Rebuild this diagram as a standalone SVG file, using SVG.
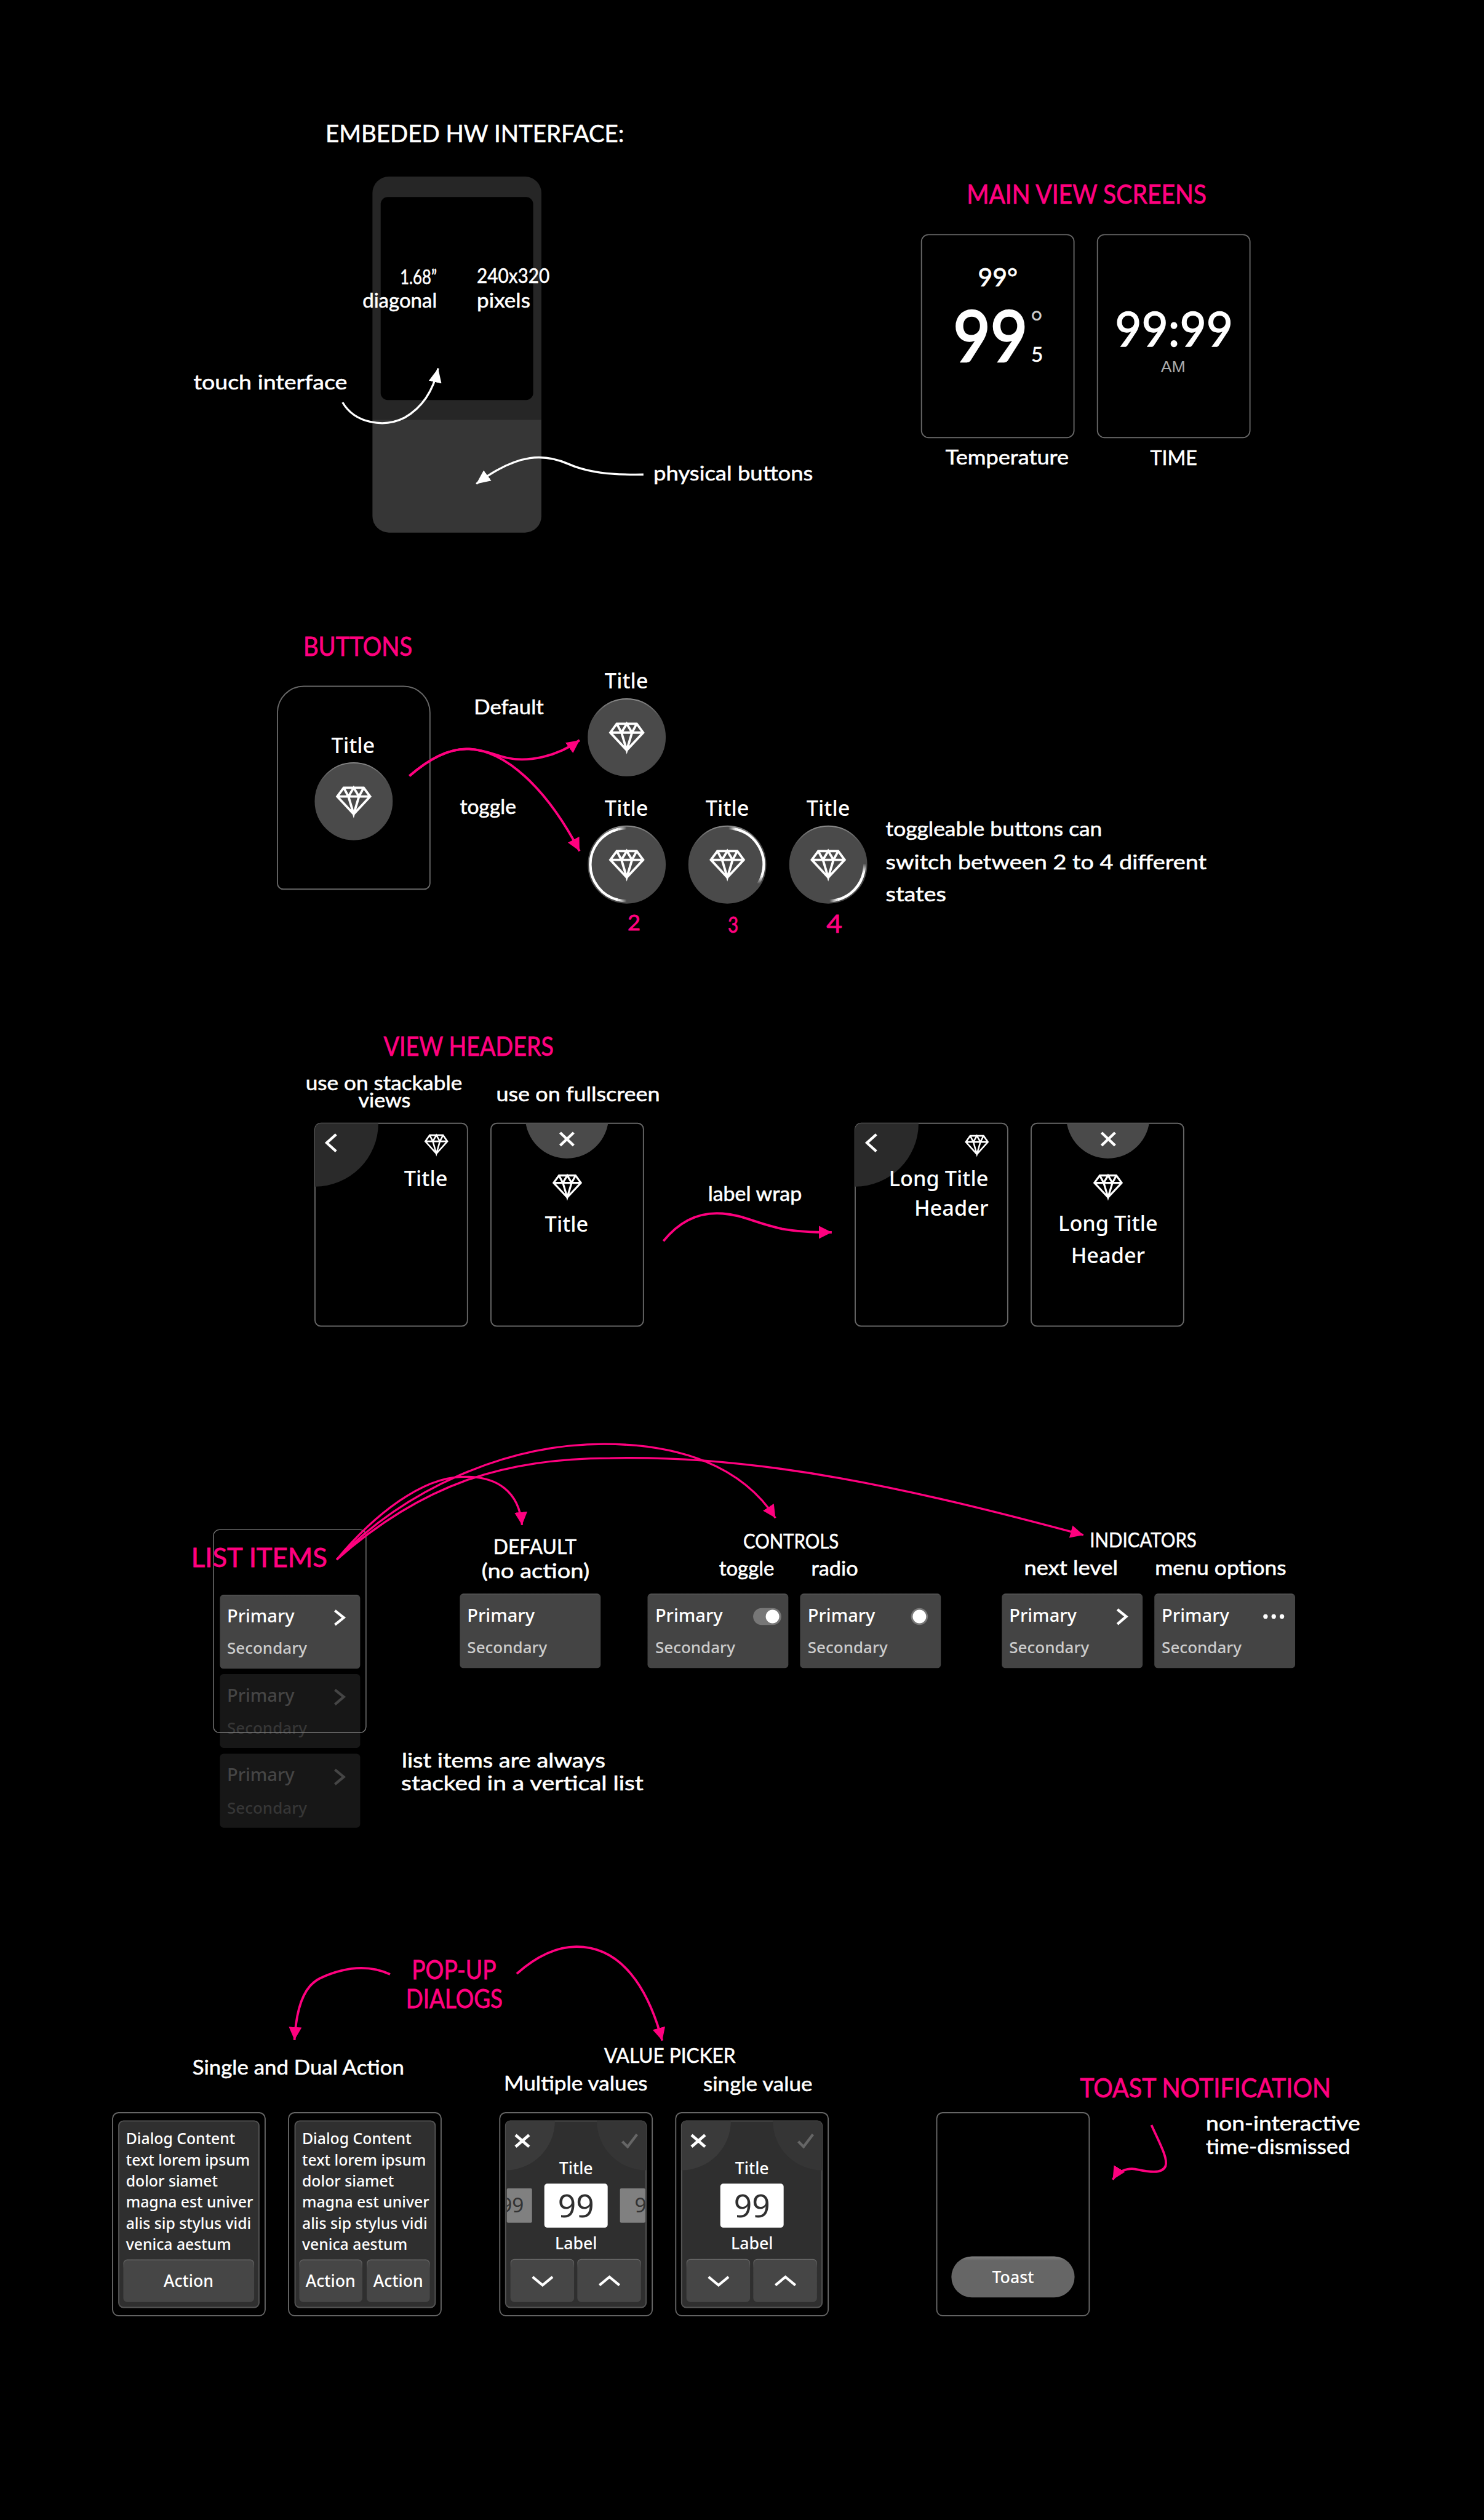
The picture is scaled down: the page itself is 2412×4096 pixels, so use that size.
<svg xmlns="http://www.w3.org/2000/svg" width="2412" height="4096" viewBox="0 0 2412 4096">
<style>
text{white-space:pre}
.h{font-family:"Lato","Noto Sans",sans-serif;fill:#fff;font-size:34px;stroke:#fff;stroke-width:.6}
.hc{font-family:"Lato","Noto Sans",sans-serif;fill:#fff;font-size:40px;stroke:#fff;stroke-width:.6}
.hs{font-size:34px}
.p{font-family:"Lato","Noto Sans",sans-serif;fill:#ff007f;font-size:44px;stroke:#ff007f;stroke-width:.8}
.u{font-family:"Noto Sans","Open Sans",sans-serif;fill:#fff;font-weight:500}
.t{font-size:36px}
.c{text-anchor:middle}
.e{text-anchor:end}
.pr{font-size:30.5px}
.se{font-size:27.3px;fill:#ccc}
.d{font-size:26px}
.a{font-size:28px}
.g{font-family:"Lato","Noto Sans",sans-serif;fill:#fff;stroke:#fff}
.fr{fill:#000;stroke:#666;stroke-width:2}
.btn{fill:#4a4a4a;stroke:url(#edge);stroke-width:2}
.item{fill:url(#itemFill)}
.dim{fill:#171717}
.dt{fill:#454545}
.ds{fill:#363636}
.ic{fill:none;stroke:#fff;stroke-width:4.5}
.dia{fill:none;stroke:#fff;stroke-width:4;stroke-linejoin:miter}
.panel{fill:#2f2f2f;stroke:#555;stroke-width:2}
.b2{fill:#464646;stroke:url(#edge2);stroke-width:1.5}
.pk{fill:none;stroke:#ff007f;stroke-width:4;marker-end:url(#ap)}
.wh{fill:none;stroke:#fff;stroke-width:3.5;marker-end:url(#aw)}
.arc{fill:none;stroke:#fff;stroke-width:4.5}
</style>
<defs>
<linearGradient id="edge" x1="0" y1="0" x2="0" y2="1"><stop offset="0" stop-color="#8a8a8a"/><stop offset=".25" stop-color="#4a4a4a"/></linearGradient>
<linearGradient id="edge2" x1="0" y1="0" x2="0" y2="1"><stop offset="0" stop-color="#666"/><stop offset=".2" stop-color="#464646"/></linearGradient>
<linearGradient id="itemFill" x1="0" y1="0" x2="0" y2="1"><stop offset="0" stop-color="#5c5c5c"/><stop offset=".02" stop-color="#444"/></linearGradient>
<linearGradient id="toastFill" x1="0" y1="0" x2="0" y2="1"><stop offset="0" stop-color="#808080"/><stop offset=".1" stop-color="#666"/></linearGradient>
<linearGradient id="fR"><stop offset="0" stop-color="#fff"/><stop offset="1" stop-color="#4a4a4a"/></linearGradient>
<linearGradient id="fL"><stop offset="0" stop-color="#4a4a4a"/><stop offset="1" stop-color="#fff"/></linearGradient>
<linearGradient id="fT" x1="0" y1="0" x2="0" y2="1"><stop offset="0" stop-color="#4a4a4a"/><stop offset="1" stop-color="#fff"/></linearGradient>
<linearGradient id="fB" x1="0" y1="0" x2="0" y2="1"><stop offset="0" stop-color="#fff"/><stop offset="1" stop-color="#4a4a4a"/></linearGradient>
<marker id="ap" markerUnits="userSpaceOnUse" markerWidth="24" markerHeight="24" refX="22" refY="12" orient="auto"><path d="M0 1L22 12L0 23Z" fill="#ff007f"/></marker>
<marker id="aw" markerUnits="userSpaceOnUse" markerWidth="26" markerHeight="24" refX="24" refY="12" orient="auto"><path d="M0 1L24 12L0 23Z" fill="#fff"/></marker>
<g id="dia"><path class="dia" d="M12 2H46L57 17L29 47L1 17ZM1 17H57M12 2L20 17L29 2L38 17L46 2M20 17L29 47L38 17"/></g>
<clipPath id="cA"><rect x="537" y="1915" width="260" height="346" rx="10"/></clipPath>
<clipPath id="cB"><rect x="837" y="1915" width="260" height="346" rx="10"/></clipPath>
<clipPath id="cC"><rect x="1458" y="1915" width="260" height="346" rx="10"/></clipPath>
<clipPath id="cD"><rect x="1758" y="1915" width="260" height="346" rx="10"/></clipPath>
<clipPath id="cH"><rect x="862" y="3616" width="239.500" height="318" rx="8"/></clipPath>
<clipPath id="cI"><rect x="1162" y="3616" width="239.500" height="318" rx="8"/></clipPath>
<clipPath id="cHs"><rect x="864" y="3725" width="236" height="70"/></clipPath>
</defs>
<rect width="2412" height="4096" fill="#000"/>
<g transform="scale(0.95336)">

<g id="hardware">
<text class="hc" x="555" y="242" textLength="509" lengthAdjust="spacingAndGlyphs">EMBEDED HW INTERFACE:</text>
<path d="M663 301H895A28 28 0 0 1 923 329V715H635V329A28 28 0 0 1 663 301Z" fill="#262626"/>
<path d="M635 715H923V880A28 28 0 0 1 895 908H663A28 28 0 0 1 635 880Z" fill="#363636"/>
<rect x="649" y="336" width="260" height="346" rx="12" fill="#000"/>
<text class="h" x="682" y="485" textLength="63" lengthAdjust="spacingAndGlyphs">1.68”</text>
<text class="h" x="618" y="525" textLength="127" lengthAdjust="spacingAndGlyphs">diagonal</text>
<text class="h" x="813" y="483" textLength="124" lengthAdjust="spacingAndGlyphs">240x320</text>
<text class="h" x="813" y="525" textLength="91" lengthAdjust="spacingAndGlyphs">pixels</text>
<text class="h" x="330" y="664" textLength="262" lengthAdjust="spacingAndGlyphs">touch interface</text>
<text class="h" x="1114" y="819" textLength="272" lengthAdjust="spacingAndGlyphs">physical buttons</text>
</g>

<g id="main-views">
<text class="p" x="1648" y="347" textLength="409" lengthAdjust="spacingAndGlyphs">MAIN VIEW SCREENS</text>
<g id="screen-temperature">
<rect class="fr" x="1571" y="400" width="260" height="346" rx="12"/>
<text class="g c" x="1701" y="488" font-size="43" stroke-width=".8">99°</text>
<text class="g" x="1625" y="617" font-size="121" stroke-width="3.500" textLength="127" lengthAdjust="spacingAndGlyphs">99</text>
<text x="1757" y="568" font-size="50" font-family="Lato, sans-serif" fill="#ccc">°</text>
<text class="g" x="1758" y="617" font-size="35" stroke-width=".6">5</text>
</g>
<g id="screen-time">
<rect class="fr" x="1871" y="400" width="260" height="346" rx="12"/>
<text class="g" x="1901" y="591" font-size="82" stroke-width="1.500" textLength="201" lengthAdjust="spacingAndGlyphs">99:99</text>
<text x="2000" y="635" text-anchor="middle" font-family="Liberation Sans, sans-serif" font-size="28" fill="#aaa">AM</text>
</g>
<text class="h" x="1612" y="792" textLength="210" lengthAdjust="spacingAndGlyphs">Temperature</text>
<text class="h" x="1961" y="793" textLength="80" lengthAdjust="spacingAndGlyphs">TIME</text>
</g>

<g id="buttons">
<text class="p" x="517" y="1118" textLength="186" lengthAdjust="spacingAndGlyphs">BUTTONS</text>
<g id="button-frame">
<path class="fr" d="M518 1170H688A45 45 0 0 1 733 1215V1506A10 10 0 0 1 723 1516H483A10 10 0 0 1 473 1506V1215A45 45 0 0 1 518 1170Z"/>
<text class="u t c" x="602" y="1284">Title</text>
<circle class="btn" cx="603" cy="1366" r="65.500"/>
<use href="#dia" transform="translate(574 1341)"/>
</g>
<text class="h" x="808" y="1218" textLength="119" lengthAdjust="spacingAndGlyphs">Default</text>
<text class="h" x="784" y="1388" textLength="96" lengthAdjust="spacingAndGlyphs">toggle</text>
<g id="button-default">
<text class="u t c" x="1068" y="1174">Title</text>
<circle class="btn" cx="1068.500" cy="1257" r="65.500"/>
<use href="#dia" transform="translate(1039.500 1232)"/>
</g>
<g id="button-toggle-2">
<text class="u t c" x="1068" y="1391">Title</text>
<circle class="btn" cx="1068.500" cy="1474" r="65.500"/>
<use href="#dia" transform="translate(1039.500 1449)"/>
<path class="arc" d="M1053.500 1413.800A62 62 0 0 0 1053.500 1534.200"/>
<path class="arc" style="stroke:url(#fR)" d="M1054 1413.700A62 62 0 0 1 1068.500 1412"/>
<path class="arc" style="stroke:url(#fR)" d="M1054 1534.300A62 62 0 0 0 1068.500 1536"/>
<text class="p" x="1070" y="1586" style="font-size:36px" textLength="22" lengthAdjust="spacingAndGlyphs">2</text>
</g>
<g id="button-toggle-3">
<text class="u t c" x="1240" y="1391">Title</text>
<circle class="btn" cx="1240" cy="1474" r="65.500"/>
<use href="#dia" transform="translate(1211 1449)"/>
<path class="arc" d="M1255 1413.800A62 62 0 0 1 1299 1493.200"/>
<path class="arc" style="stroke:url(#fL)" d="M1242 1412A62 62 0 0 1 1255 1413.800"/>
<path class="arc" style="stroke:url(#fB)" d="M1299 1493.200A62 62 0 0 1 1292.600 1506.900"/>
<text class="p" x="1241" y="1590" style="font-size:38px" textLength="18" lengthAdjust="spacingAndGlyphs">3</text>
</g>
<g id="button-toggle-4">
<text class="u t c" x="1412" y="1391">Title</text>
<circle class="btn" cx="1412" cy="1474" r="65.500"/>
<use href="#dia" transform="translate(1383 1449)"/>
<path class="arc" d="M1472.600 1486.900A62 62 0 0 1 1428 1533.900"/>
<path class="arc" style="stroke:url(#fT)" d="M1474 1472A62 62 0 0 1 1472.600 1486.900"/>
<path class="arc" style="stroke:url(#fL)" d="M1414 1536A62 62 0 0 0 1428 1533.900"/>
<text class="p" x="1409" y="1590" style="font-size:42px" textLength="27" lengthAdjust="spacingAndGlyphs">4</text>
</g>
<text class="h" x="1510" y="1425" textLength="369" lengthAdjust="spacingAndGlyphs">toggleable buttons can</text>
<text class="h" x="1510" y="1482" textLength="547" lengthAdjust="spacingAndGlyphs">switch between 2 to 4 different</text>
<text class="h" x="1510" y="1537" textLength="103" lengthAdjust="spacingAndGlyphs">states</text>
</g>

<g id="view-headers">
<text class="p" x="654" y="1800" textLength="290" lengthAdjust="spacingAndGlyphs">VIEW HEADERS</text>
<text class="h" x="521" y="1859" textLength="267" lengthAdjust="spacingAndGlyphs">use on stackable</text>
<text class="h" x="611" y="1888" textLength="89" lengthAdjust="spacingAndGlyphs">views</text>
<text class="h" x="846" y="1878" textLength="279" lengthAdjust="spacingAndGlyphs">use on fullscreen</text>
<g id="header-stack">
<rect class="fr" x="537" y="1915" width="260" height="346" rx="10"/>
<circle cx="537" cy="1915" r="108" fill="#2a2a2a" clip-path="url(#cA)"/>
<path class="ic" d="M573 1934L557 1948.500L573 1963"/>
<use href="#dia" transform="translate(724.500 1934) scale(.67 .7)"/>
<text class="u t e" x="763" y="2022">Title</text>
</g>
<g id="header-full">
<rect class="fr" x="837" y="1915" width="260" height="346" rx="10"/>
<circle cx="966.500" cy="1904" r="71" fill="#4a4a4a" clip-path="url(#cB)"/>
<path class="ic" d="M955 1931L978 1953M978 1931L955 1953"/>
<use href="#dia" transform="translate(943 2002.500) scale(.83)"/>
<text class="u t c" x="966" y="2100">Title</text>
</g>
<text class="h" x="1207" y="2047" textLength="160" lengthAdjust="spacingAndGlyphs">label wrap</text>
<g id="header-stack-long">
<rect class="fr" x="1458" y="1915" width="260" height="346" rx="10"/>
<circle cx="1458" cy="1915" r="108" fill="#2a2a2a" clip-path="url(#cC)"/>
<path class="ic" d="M1494 1934L1478 1948.500L1494 1963"/>
<use href="#dia" transform="translate(1646 1935) scale(.67 .7)"/>
<text class="u t e" x="1685" y="2022">Long Title</text>
<text class="u t e" x="1685" y="2073">Header</text>
</g>
<g id="header-full-long">
<rect class="fr" x="1758" y="1915" width="260" height="346" rx="10"/>
<circle cx="1889" cy="1904" r="71" fill="#4a4a4a" clip-path="url(#cD)"/>
<path class="ic" d="M1878 1931L1901 1953M1901 1931L1878 1953"/>
<use href="#dia" transform="translate(1865 2002.500) scale(.83)"/>
<text class="u t c" x="1889" y="2099">Long Title</text>
<text class="u t c" x="1889" y="2153">Header</text>
</g>
</g>

<g id="list-items">
<g id="list-stack">
<rect class="dim" x="375" y="2854" width="239" height="126" rx="6"/>
<text class="u pr dt" x="387" y="2901">Primary</text>
<path class="ic" style="stroke:#454545" d="M571 2881L586 2893L571 2906"/>
<text class="u se ds" x="387" y="2955.500">Secondary</text>
<rect class="dim" x="375" y="2990" width="239" height="126" rx="6"/>
<text class="u pr dt" x="387" y="3037">Primary</text>
<path class="ic" style="stroke:#454545" d="M571 3017L586 3029.500L571 3042"/>
<text class="u se ds" x="387" y="3092">Secondary</text>
<rect class="item" x="375" y="2719" width="239" height="126" rx="6"/>
<text class="u pr" x="387" y="2766">Primary</text>
<path class="ic" d="M571 2746L586 2758L571 2770"/>
<text class="u se" x="387" y="2819.500">Secondary</text>
<rect x="364" y="2608" width="260" height="346" rx="10" fill="none" stroke="#777" stroke-width="1.500"/>
<text class="p" x="326" y="2672" textLength="232" lengthAdjust="spacingAndGlyphs">LIST ITEMS</text>
</g>
<g id="item-default">
<text class="hc hs" style="font-size:34px" x="841" y="2650" textLength="142" lengthAdjust="spacingAndGlyphs">DEFAULT</text>
<text class="hc hs" style="font-size:34px" x="821" y="2690" textLength="184" lengthAdjust="spacingAndGlyphs">(no action)</text>
<rect class="item" x="784" y="2717" width="240" height="127" rx="6"/>
<text class="u pr" x="796.500" y="2765">Primary</text>
<text class="u se" x="796.500" y="2818.500">Secondary</text>
</g>
<text class="hc hs" style="font-size:34px" x="1267" y="2640" textLength="163" lengthAdjust="spacingAndGlyphs">CONTROLS</text>
<text class="h" x="1226" y="2686" textLength="94" lengthAdjust="spacingAndGlyphs">toggle</text>
<text class="h" x="1383" y="2686" textLength="80" lengthAdjust="spacingAndGlyphs">radio</text>
<g id="item-toggle">
<rect class="item" x="1104" y="2717" width="240" height="127" rx="6"/>
<text class="u pr" x="1117" y="2765">Primary</text>
<text class="u se" x="1117" y="2818.500">Secondary</text>
<rect x="1284" y="2741.500" width="48" height="29" rx="14.500" fill="#777"/>
<circle cx="1317" cy="2756" r="11.500" fill="#fff"/>
</g>
<g id="item-radio">
<rect class="item" x="1364" y="2717" width="240" height="127" rx="6"/>
<text class="u pr" x="1377" y="2765">Primary</text>
<text class="u se" x="1377" y="2818.500">Secondary</text>
<circle cx="1567.500" cy="2756" r="14.500" fill="#777"/>
<circle cx="1567.500" cy="2756" r="11.500" fill="#fff"/>
</g>
<text class="hc hs" style="font-size:34px" x="1858" y="2638" textLength="182" lengthAdjust="spacingAndGlyphs">INDICATORS</text>
<text class="h" x="1746" y="2685" textLength="160" lengthAdjust="spacingAndGlyphs">next level</text>
<text class="h" x="1969" y="2685" textLength="224" lengthAdjust="spacingAndGlyphs">menu options</text>
<g id="item-next">
<rect class="item" x="1708" y="2717" width="240" height="127" rx="6"/>
<text class="u pr" x="1720.500" y="2765">Primary</text>
<text class="u se" x="1720.500" y="2818.500">Secondary</text>
<path class="ic" d="M1905 2744L1920 2756L1905 2769"/>
</g>
<g id="item-menu">
<rect class="item" x="1968" y="2717" width="240" height="127" rx="6"/>
<text class="u pr" x="1980.500" y="2765">Primary</text>
<text class="u se" x="1980.500" y="2818.500">Secondary</text>
<circle cx="2157.500" cy="2756" r="3.800" fill="#fff"/><circle cx="2171.500" cy="2756" r="3.800" fill="#fff"/><circle cx="2185.500" cy="2756" r="3.800" fill="#fff"/>
</g>
<text class="h" x="685" y="3014" textLength="347" lengthAdjust="spacingAndGlyphs">list items are always</text>
<text class="h" x="684" y="3052" textLength="413" lengthAdjust="spacingAndGlyphs">stacked in a vertical list</text>
</g>

<g id="dialogs">
<text class="p" x="702" y="3374" textLength="144" lengthAdjust="spacingAndGlyphs">POP-UP</text>
<text class="p" x="692" y="3424" textLength="165" lengthAdjust="spacingAndGlyphs">DIALOGS</text>
<text class="h" x="328" y="3537" textLength="361" lengthAdjust="spacingAndGlyphs">Single and Dual Action</text>
<g id="dialog-single">
<rect class="fr" x="192" y="3602" width="260" height="346" rx="10"/>
<rect class="panel" x="202.500" y="3616" width="239" height="318" rx="8"/>
<text class="u d" x="214.700" y="3656">Dialog Content</text>
<text class="u d" x="214.700" y="3692">text lorem ipsum</text>
<text class="u d" x="214.700" y="3728">dolor siamet</text>
<text class="u d" x="214.700" y="3764">magna est univer</text>
<text class="u d" x="214.700" y="3800">alis sip stylus vidi</text>
<text class="u d" x="214.700" y="3836">venica aestum</text>
<rect class="b2" x="211" y="3853" width="221.500" height="71" rx="6"/>
<text class="u a c" x="321.500" y="3899">Action</text>
</g>
<g id="dialog-dual">
<rect class="fr" x="492" y="3602" width="260" height="346" rx="10"/>
<rect class="panel" x="503" y="3616" width="239" height="318" rx="8"/>
<text class="u d" x="515" y="3656">Dialog Content</text>
<text class="u d" x="515" y="3692">text lorem ipsum</text>
<text class="u d" x="515" y="3728">dolor siamet</text>
<text class="u d" x="515" y="3764">magna est univer</text>
<text class="u d" x="515" y="3800">alis sip stylus vidi</text>
<text class="u d" x="515" y="3836">venica aestum</text>
<rect class="b2" x="511" y="3853" width="106" height="71" rx="6"/>
<rect class="b2" x="626" y="3853" width="106" height="71" rx="6"/>
<text class="u a c" x="563.500" y="3899">Action</text>
<text class="u a c" x="679" y="3899">Action</text>
</g>
<text class="hc hs" style="font-size:34px" x="1030" y="3517" textLength="224" lengthAdjust="spacingAndGlyphs">VALUE PICKER</text>
<text class="h" x="859" y="3564" textLength="245" lengthAdjust="spacingAndGlyphs">Multiple values</text>
<text class="h" x="1199" y="3565" textLength="186" lengthAdjust="spacingAndGlyphs">single value</text>
<g id="picker-multiple">
<rect class="fr" x="852" y="3602" width="260" height="346" rx="10"/>
<rect class="panel" x="862" y="3616" width="239.500" height="318" rx="8"/>
<circle cx="862" cy="3616" r="84" fill="#3a3a3a" clip-path="url(#cH)"/>
<circle cx="1101.500" cy="3616" r="84" fill="#353535" clip-path="url(#cH)"/>
<path class="ic" style="stroke-width:5" d="M879 3640L902 3660M902 3640L879 3660"/>
<path class="ic" style="stroke:#666" d="M1061 3651L1070 3660L1086 3639"/>
<text class="u a c" x="982" y="3707">Title</text>
<rect x="864" y="3731" width="43" height="58.500" rx="2" fill="#808080"/>
<rect x="1057" y="3731" width="43" height="58.500" rx="2" fill="#808080"/>
<g clip-path="url(#cHs)">
<text x="893" y="3772" text-anchor="end" style="font-family:'Noto Sans',sans-serif;font-size:35px;fill:#333">99</text>
<text x="1082" y="3772" style="font-family:'Noto Sans',sans-serif;font-size:35px;fill:#333">99</text>
</g>
<rect x="928" y="3723" width="108" height="75" rx="5" fill="#fff"/>
<text class="c" x="982" y="3780" style="font-family:'Noto Sans',sans-serif;font-size:54px;fill:#2f2f2f">99</text>
<text class="u a c" x="982" y="3835">Label</text>
<rect class="b2" x="871" y="3852" width="107" height="72" rx="6"/>
<rect class="b2" x="985" y="3852" width="107" height="72" rx="6"/>
<path class="ic" d="M908 3882L925 3896L942 3882"/>
<path class="ic" d="M1022 3896L1039 3882L1056 3896"/>
</g>
<g id="picker-single">
<rect class="fr" x="1152" y="3602" width="260" height="346" rx="10"/>
<rect class="panel" x="1162" y="3616" width="239.500" height="318" rx="8"/>
<circle cx="1162" cy="3616" r="84" fill="#3a3a3a" clip-path="url(#cI)"/>
<circle cx="1401.500" cy="3616" r="84" fill="#353535" clip-path="url(#cI)"/>
<path class="ic" style="stroke-width:5" d="M1179 3640L1202 3660M1202 3640L1179 3660"/>
<path class="ic" style="stroke:#666" d="M1361 3651L1370 3660L1386 3639"/>
<text class="u a c" x="1282" y="3707">Title</text>
<rect x="1228" y="3723" width="108" height="75" rx="5" fill="#fff"/>
<text class="c" x="1282" y="3780" style="font-family:'Noto Sans',sans-serif;font-size:54px;fill:#2f2f2f">99</text>
<text class="u a c" x="1282" y="3835">Label</text>
<rect class="b2" x="1171" y="3852" width="107" height="72" rx="6"/>
<rect class="b2" x="1285" y="3852" width="107" height="72" rx="6"/>
<path class="ic" d="M1208 3882L1225 3896L1242 3882"/>
<path class="ic" d="M1322 3896L1339 3882L1356 3896"/>
</g>
</g>

<g id="toast">
<text class="p" x="1841" y="3576" textLength="428" lengthAdjust="spacingAndGlyphs">TOAST NOTIFICATION</text>
<text class="h" x="2056" y="3632" textLength="263" lengthAdjust="spacingAndGlyphs">non-interactive</text>
<text class="h" x="2056" y="3672" textLength="246" lengthAdjust="spacingAndGlyphs">time-dismissed</text>
<rect class="fr" x="1597" y="3602" width="260" height="346" rx="10"/>
<rect x="1622" y="3847" width="210" height="70" rx="35" fill="url(#toastFill)"/>
<text class="u a c" x="1727" y="3893">Toast</text>
</g>

<g id="connectors">
<path class="wh" d="M584 686C605 722 655 730 690 712C725 692 740 660 747 628"/>
<path class="wh" d="M1097 809C1040 810 1000 805 969 791C930 774 885 770 812 825"/>
<path class="pk" d="M698 1323C730 1295 765 1275 800 1277C830 1279 845 1288 864 1292C900 1300 950 1290 988 1262"/>
<path class="pk" d="M698 1323C730 1295 765 1275 800 1277C860 1280 930 1340 988 1451"/>
<path class="pk" d="M1131 2116C1160 2080 1195 2066 1232 2069C1265 2071 1290 2086 1333 2095C1360 2100 1385 2101 1418 2101"/>
<path class="pk" style="stroke-width:3.500" d="M574 2659C640 2580 720 2520 785 2518C850 2515 885 2545 890 2600"/>
<path class="pk" style="stroke-width:3.500" d="M574 2659C690 2540 860 2462 1030 2462C1160 2462 1265 2500 1322 2588"/>
<path class="pk" style="stroke-width:3.500" d="M574 2659C720 2530 860 2486 1040 2486C1300 2480 1560 2540 1847 2617"/>
<path class="pk" d="M665 3366C630 3350 590 3352 545 3373C515 3388 505 3430 502 3478"/>
<path class="pk" d="M881 3365C915 3335 950 3319 983 3319C1060 3319 1105 3390 1129 3479"/>
<path class="pk" d="M1963 3623C1975 3650 1992 3680 1987 3693C1981 3708 1955 3702 1935 3698C1920 3696 1905 3703 1897 3716"/>
</g>
</g>
</svg>
